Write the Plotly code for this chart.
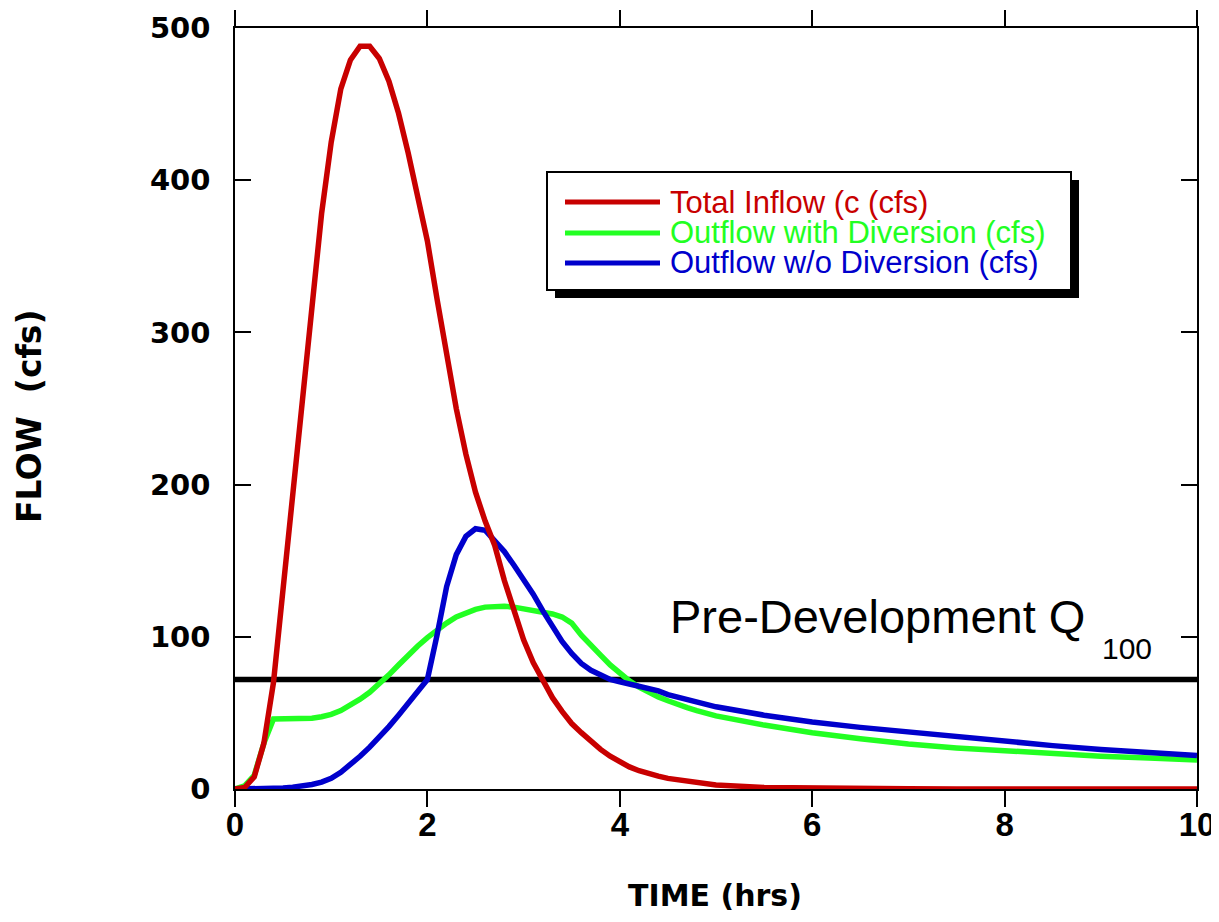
import plotly.graph_objects as go

# ---------------- data ----------------
time_hrs = [0.0, 0.1, 0.2, 0.3, 0.4, 0.5, 0.6, 0.7, 0.8, 0.9,
            1.0, 1.1, 1.2, 1.3, 1.4, 1.5, 1.6, 1.7, 1.8, 1.9,
            2.0, 2.1, 2.2, 2.3, 2.4, 2.5, 2.6, 2.7, 2.8, 2.9,
            3.0, 3.1, 3.2, 3.3, 3.4, 3.5, 3.6, 3.7, 3.8, 3.9,
            4.0, 4.1, 4.2, 4.3, 4.4, 4.5, 4.6, 4.7, 4.8, 4.9,
            5.0, 5.5, 6.0, 6.5, 7.0, 7.5, 8.0, 8.5, 9.0, 9.5, 10.0]

total_inflow = [0, 1, 8, 30, 70, 130, 190, 250, 318, 378,
                425, 460, 479, 488, 488, 480, 465, 444, 418, 390,
                360, 322, 284, 250, 220, 195, 176, 160, 137, 116,
                98, 83, 71, 60, 51, 43, 37, 31, 26, 21.5,
                17.5, 14.5, 12, 10, 8.5, 7, 6, 5, 4, 3.3,
                2.7, 1.0, 0.4, 0.2, 0.1, 0, 0, 0, 0, 0, 0]

outflow_with_div = [0, 2, 9, 30, 46, 46, 46, 46, 46.5, 47.5,
                    49, 51.5, 55, 59, 63.5, 69, 75, 81.5, 88, 94,
                    99.5, 104.5, 109, 113, 116, 118, 119.5, 120, 120, 119.5,
                    118.5, 117.5, 116.5, 115, 113, 109, 101, 94, 88, 81.5,
                    76, 71, 67, 63.5, 60.5, 58, 55.5, 53.5, 51.5, 49.5,
                    48, 42, 37, 33, 29.5, 27, 25, 23, 21.5, 20.3, 19]

outflow_wo_div = [0, 0, 0, 0, 0.3, 0.6, 1.2, 2, 3, 4.5,
                  7, 11, 16, 21.5, 27.5, 34, 41, 48.5, 56, 64,
                  72, 101, 133, 154, 166, 171, 170, 163, 156, 147,
                  138, 128, 117, 107, 97, 89, 82.5, 78, 74.5, 72,
                  70.5, 69, 67.5, 66, 64.5, 62, 60.5, 59, 57, 55.5,
                  54, 48.5, 44, 40.5, 37.5, 34, 31, 28.5, 26, 24, 22]

q100_time = [0, 10]
q100_flow = [72, 72]

series_names = ["Total Inflow (c (cfs)", "Outflow with Diversion (cfs)", "Outflow w/o Diversion (cfs)"]
series_colors = ["#c80000", "#22ff22", "#0000cc"]

x_ticks = [0, 2, 4, 6, 8, 10]
y_ticks = [0, 100, 200, 300, 400, 500]

# ---------------- layout helpers (page pixel -> paper) ----------------
# page has an 8px body margin; plot area on the page spans x 235..1197, y 28..789
OFF = 8
L, R, T, B = 235, 1197, 28, 789
W, H = 1219 - OFF, 922 - OFF


def px_x(px):
    return (px - L) / (R - L)


def px_y(py):
    return (B - py) / (B - T)


LW = 5.5
fig = go.Figure()

fig.add_trace(go.Scatter(x=q100_time, y=q100_flow, mode="lines",
                         line=dict(color="black", width=LW), showlegend=False,
                         hoverinfo="skip"))
fig.add_trace(go.Scatter(x=time_hrs, y=outflow_with_div, mode="lines",
                         name=series_names[1],
                         line=dict(color=series_colors[1], width=LW), showlegend=False))
fig.add_trace(go.Scatter(x=time_hrs, y=outflow_wo_div, mode="lines",
                         name=series_names[2],
                         line=dict(color=series_colors[2], width=LW), showlegend=False))
fig.add_trace(go.Scatter(x=time_hrs, y=total_inflow, mode="lines",
                         name=series_names[0],
                         line=dict(color=series_colors[0], width=LW), showlegend=False))

shapes = []
# legend shadow and box
shapes.append(dict(type="rect", xref="paper", yref="paper",
                   x0=px_x(555), x1=px_x(1079), y0=px_y(298), y1=px_y(180),
                   fillcolor="black", line=dict(width=0)))
shapes.append(dict(type="rect", xref="paper", yref="paper",
                   x0=px_x(547), x1=px_x(1071), y0=px_y(290), y1=px_y(172),
                   fillcolor="white", line=dict(color="black", width=2)))
rows = [202, 233, 263]
annotations = []
for name, color, row in zip(series_names, series_colors, rows):
    shapes.append(dict(type="line", xref="paper", yref="paper",
                       x0=px_x(565), x1=px_x(660), y0=px_y(row), y1=px_y(row),
                       line=dict(color=color, width=5)))
    annotations.append(dict(xref="paper", yref="paper", x=px_x(668), y=px_y(row),
                            xanchor="left", yanchor="middle", showarrow=False,
                            text=name,
                            font=dict(family="Liberation Sans, Arial", size=31, color=color)))

# Pre-Development Q100 label
annotations.append(dict(xref="paper", yref="paper", x=px_x(668), y=px_y(616),
                        xanchor="left", yanchor="middle", showarrow=False,
                        text="Pre-Development Q",
                        font=dict(family="Liberation Sans, Arial", size=47, color="black")))
annotations.append(dict(xref="paper", yref="paper", x=px_x(1100), y=px_y(648),
                        xanchor="left", yanchor="middle", showarrow=False,
                        text="100",
                        font=dict(family="Liberation Sans, Arial", size=30, color="black")))

# axis titles
annotations.append(dict(xref="paper", yref="paper", x=px_x(715), y=px_y(896),
                        xanchor="center", yanchor="middle", showarrow=False,
                        text="TIME (hrs)",
                        font=dict(family="DejaVu Sans", size=30, color="black", weight="bold")))
annotations.append(dict(xref="paper", yref="paper", x=px_x(29), y=px_y(416),
                        xanchor="center", yanchor="middle", showarrow=False,
                        textangle=-90,
                        text="FLOW\u00a0\u00a0(cfs)",
                        font=dict(family="DejaVu Sans", size=33, color="black", weight="bold")))

fig.update_layout(
    width=W, height=H,
    margin=dict(l=L - OFF, r=W - (R - OFF), t=T - OFF, b=H - (B - OFF), pad=0, autoexpand=False),
    paper_bgcolor="white", plot_bgcolor="white",
    showlegend=False,
    shapes=shapes,
    annotations=annotations,
    xaxis=dict(range=[0, 10], tickvals=x_ticks, ticktext=[str(v) for v in x_ticks],
               ticks="outside", ticklen=16, tickwidth=1.5, tickcolor="black",
               showline=True, linecolor="black", linewidth=1.5, mirror="ticks",
               showgrid=False, zeroline=False, ticklabelstandoff=-10, automargin=False,
               tickfont=dict(family="Liberation Sans, Arial", size=33, color="black", weight="bold")),
    yaxis=dict(range=[0, 500], tickvals=y_ticks, ticktext=[str(v) for v in y_ticks],
               ticks="inside", ticklen=16, tickwidth=1.5, tickcolor="black",
               showline=True, linecolor="black", linewidth=1.5, mirror="ticks",
               showgrid=False, zeroline=False, ticklabelstandoff=17, automargin=False,
               tickfont=dict(family="DejaVu Sans", size=29, color="black", weight="bold")),
)

fig.write_html("out.html")
